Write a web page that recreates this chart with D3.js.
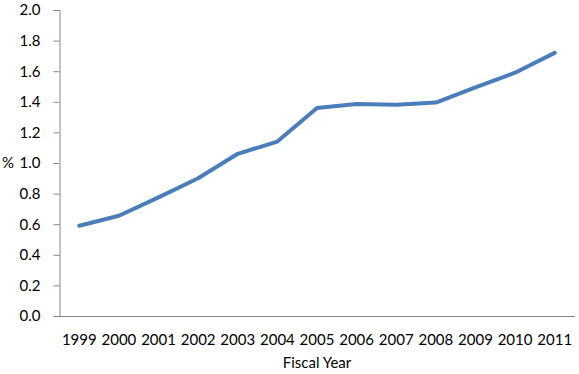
<!DOCTYPE html>
<html>
<head>
<meta charset="utf-8">
<script src="https://cdn.jsdelivr.net/npm/d3@7"></script>
<style>
  html, body { margin: 0; padding: 0; background: #fff; }
  svg { display: block; }
  text { font-family: Lato, "Open Sans", "Liberation Sans", sans-serif; fill: #000; }
</style>
</head>
<body>
<svg id="chart" width="579" height="374"></svg>
<script>
const years = ["1999","2000","2001","2002","2003","2004","2005","2006","2007","2008","2009","2010","2011"];
const values = [0.59, 0.655, 0.775, 0.90, 1.06, 1.14, 1.36, 1.385, 1.38, 1.395, 1.495, 1.59, 1.72];
const yTicks = [0.0, 0.2, 0.4, 0.6, 0.8, 1.0, 1.2, 1.4, 1.6, 1.8, 2.0];
const xTitle = "Fiscal Year";
const yTitle = "%";

const svg = d3.select("#chart");
const mLeft = 59.5, mRight = 574.5, mTop = 10, mBottom = 316;

const x = d3.scaleBand().domain(years).range([mLeft, mRight]).paddingInner(0).paddingOuter(0);
const y = d3.scaleLinear().domain([0, 2]).range([mBottom, mTop]);

const axisColor = "#868686";
const fontFam = "Lato, 'Open Sans', sans-serif";
const fs = "15px";

// Y axis
const yAxis = svg.append("g").attr("transform", `translate(${mLeft},0)`)
  .call(d3.axisLeft(y).tickValues(yTicks).tickFormat(d3.format(".1f")).tickSize(6).tickPadding(13));
yAxis.select(".domain").attr("stroke", axisColor);
yAxis.selectAll(".tick line").attr("stroke", axisColor);
yAxis.selectAll(".tick text").attr("font-size", fs).attr("fill", "#000")
  .style("font-family", fontFam);

// X axis
const xAxis = svg.append("g").attr("transform", `translate(0,${mBottom})`)
  .call(d3.axisBottom(x).tickSizeInner(0).tickSizeOuter(0).tickPadding(18));
xAxis.select(".domain").attr("stroke", axisColor);
xAxis.selectAll(".tick line").remove();
xAxis.selectAll(".tick text").attr("font-size", fs).attr("fill", "#000")
  .style("font-family", fontFam);

// Line
const line = d3.line()
  .x((d, i) => x(years[i]) + x.bandwidth() / 2)
  .y(d => y(d));
svg.append("path")
  .datum(values)
  .attr("d", line)
  .attr("fill", "none")
  .attr("stroke", "#4a7ebb")
  .attr("stroke-width", 4)
  .attr("stroke-linejoin", "round")
  .attr("stroke-linecap", "round");

// Titles
svg.append("text")
  .attr("x", (mLeft + mRight) / 2)
  .attr("y", 368)
  .attr("text-anchor", "middle")
  .attr("font-size", fs)
  .style("font-family", fontFam)
  .text(xTitle);

svg.append("text")
  .attr("x", 2)
  .attr("y", y(1.0) + 5)
  .attr("font-size", fs)
  .style("font-family", fontFam)
  .text(yTitle);
</script>
</body>
</html>
